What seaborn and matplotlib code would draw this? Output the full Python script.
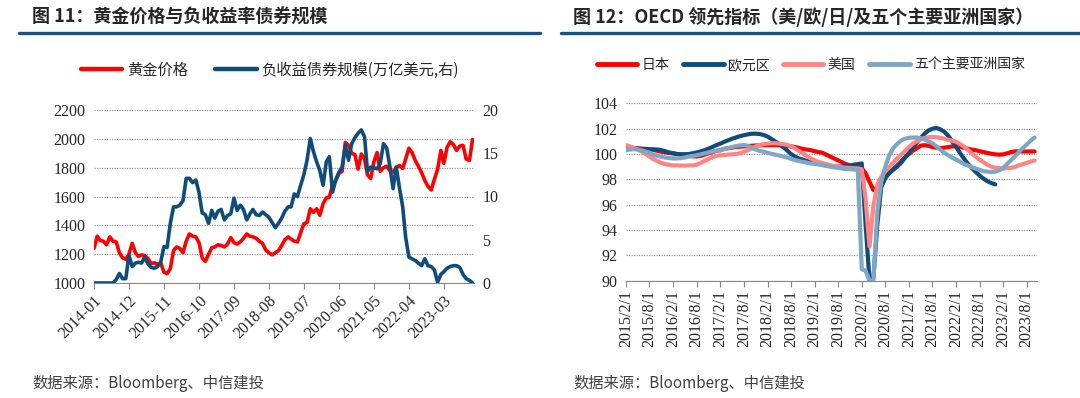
import pandas as pd
import matplotlib.pyplot as plt
import seaborn as sns
from matplotlib.lines import Line2D

# left chart: gold price (USD/oz) and negative-yield bond stock (trn USD, right axis), monthly
gold = [1240, 1325, 1295, 1290, 1265, 1320, 1290, 1285, 1210, 1175, 1165, 1200,
        1275, 1210, 1185, 1195, 1190, 1170, 1135, 1140, 1130, 1140, 1075, 1065,
        1100, 1225, 1250, 1240, 1210, 1290, 1340, 1325, 1320, 1280, 1175, 1150,
        1200, 1245, 1250, 1265, 1260, 1250, 1270, 1315, 1280, 1270, 1285, 1310,
        1340, 1325, 1320, 1310, 1290, 1275, 1230, 1210, 1195, 1210, 1225, 1260,
        1300, 1320, 1305, 1290, 1285, 1350, 1410, 1420, 1515, 1490, 1515, 1470,
        1550, 1590, 1595, 1680, 1710, 1760, 1775, 1975, 1955, 1900, 1890, 1790,
        1895, 1860, 1750, 1725, 1840, 1905, 1775, 1800, 1810, 1780, 1770, 1800,
        1815, 1795, 1860, 1935, 1905, 1850, 1810, 1765, 1710, 1670, 1645, 1720,
        1790, 1920, 1830, 1940, 1980, 1960, 1920, 1950, 1955, 1860, 1850, 1995]
neg_bonds = [0, 0, 0, 0, 0, 0, 0, 0.4, 1.1, 0.5, 0.5, 3.2,
             1.9, 2.3, 2.4, 2.3, 3.0, 2.2, 1.8, 1.7, 1.9, 2.4, 4.2, 4.1,
             6.9, 8.8, 8.8, 9.0, 9.5, 12.1, 12.1, 11.6, 11.9, 10.5, 8.1, 7.9,
             6.9, 8.4, 7.5, 8.3, 8.5, 7.3, 7.8, 8.0, 9.8, 8.4, 9.0, 8.5,
             7.3, 8.0, 8.5, 7.9, 7.8, 8.2, 7.9, 7.6, 7.0, 6.4, 6.9, 7.5,
             8.3, 8.8, 8.8, 10.3, 10.0, 11.3, 12.5, 14.2, 16.7, 15.2, 14.0, 13.0,
             11.3, 14.0, 14.6, 10.5, 11.9, 12.8, 13.4, 15.9, 14.2, 16.1, 16.8, 17.3,
             17.7, 16.9, 12.9, 13.4, 13.3, 13.2, 13.8, 16.1, 15.6, 13.5, 10.9, 13.4,
             11.0, 8.8, 5.3, 3.0, 2.8, 2.6, 2.3, 2.0, 2.8, 2.0, 1.9, 1.5,
             0.1, 1.0, 1.3, 1.7, 1.9, 2.0, 2.0, 1.8, 1.0, 0.5, 0.3, 0.0]
left_months = pd.date_range('2014-01-01', periods=len(gold), freq='MS')
left_ticks = ['2014-01', '2014-12', '2015-11', '2016-10', '2017-09', '2018-08',
              '2019-07', '2020-06', '2021-05', '2022-04', '2023-03']

# right chart: OECD composite leading indicators, monthly from 2015-02
japan = [100.45, 100.45, 100.45, 100.45, 100.42, 100.40, 100.37, 100.32, 100.25, 100.18,
         100.12, 100.08, 100.05, 100.0, 99.95, 99.9, 99.85, 99.82, 99.8, 99.85,
         99.95, 100.05, 100.15, 100.25, 100.3, 100.4, 100.45, 100.5, 100.55, 100.58,
         100.6, 100.62, 100.65, 100.67, 100.68, 100.7, 100.7, 100.7, 100.7, 100.68,
         100.66, 100.63, 100.6, 100.55, 100.48, 100.4, 100.35, 100.3, 100.22, 100.15,
         100.1, 99.95, 99.8, 99.65, 99.5, 99.35, 99.2, 99.1, 99.0, 98.95,
         98.85, 98.5, 97.8, 97.15, 97.4, 97.9, 98.2, 98.5, 98.8, 99.1,
         99.4, 99.75, 100.0, 100.25, 100.45, 100.65, 100.7, 100.65, 100.55, 100.5,
         100.45, 100.5, 100.55, 100.6, 100.6, 100.55, 100.5, 100.42, 100.35, 100.3,
         100.22, 100.15, 100.08, 100.02, 99.97, 99.95, 99.97, 100.05, 100.15, 100.2,
         100.2, 100.2, 100.2, 100.2, 100.2]
euro = [100.35, 100.4, 100.42, 100.42, 100.4, 100.38, 100.37, 100.37, 100.35, 100.3,
        100.22, 100.12, 100.05, 100.0, 99.98, 99.98, 100.0, 100.05, 100.12, 100.2,
        100.3, 100.42, 100.55, 100.7, 100.82, 100.95, 101.08, 101.2, 101.3, 101.4,
        101.48, 101.55, 101.6, 101.6, 101.58, 101.5, 101.38, 101.2, 101.0, 100.8,
        100.55, 100.3, 100.0, 99.8, 99.65, 99.55, 99.45, 99.38, 99.3, 99.25,
        99.2, 99.12, 99.05, 99.0, 99.0, 99.02, 99.05, 99.1, 99.15, 99.2,
        99.25, 94.5, 90.0, 90.2, 94.5, 97.4, 98.1, 98.5, 98.75, 99.0,
        99.3, 99.7, 100.1, 100.5, 100.9, 101.25, 101.6, 101.85, 102.0, 102.05,
        101.95, 101.75, 101.45, 101.0, 100.55, 100.1, 99.65, 99.25, 98.9, 98.6,
        98.3, 98.05, 97.85, 97.7, 97.6]
usa = [100.7, 100.6, 100.5, 100.35, 100.2, 100.0, 99.8, 99.6, 99.45, 99.3,
       99.2, 99.15, 99.1, 99.1, 99.08, 99.08, 99.1, 99.1, 99.15, 99.3,
       99.45, 99.6, 99.75, 99.85, 99.9, 99.92, 99.95, 99.97, 100.0, 100.05,
       100.15, 100.3, 100.45, 100.6, 100.7, 100.78, 100.82, 100.85, 100.85, 100.82,
       100.78, 100.72, 100.6, 100.45, 100.25, 100.05, 99.85, 99.65, 99.5, 99.38,
       99.3, 99.2, 99.12, 99.05, 99.0, 98.95, 98.92, 98.9, 98.88, 98.86,
       98.8, 96.5, 92.7, 95.9, 97.6, 98.2, 98.65, 98.95, 99.3, 99.65,
       99.95, 100.25, 100.55, 100.8, 101.0, 101.15, 101.25, 101.32, 101.35, 101.32,
       101.28, 101.2, 101.12, 101.05, 100.95, 100.8, 100.6, 100.35, 100.05, 99.8,
       99.55, 99.35, 99.15, 99.0, 98.92, 98.88, 98.85, 98.88, 98.9, 98.98,
       99.1, 99.2, 99.3, 99.4, 99.48]
asia5 = [100.3, 100.35, 100.38, 100.37, 100.3, 100.2, 100.1, 99.95, 99.85, 99.78,
         99.72, 99.68, 99.65, 99.65, 99.67, 99.72, 99.8, 99.85, 99.9, 99.97,
         100.05, 100.12, 100.2, 100.25, 100.3, 100.38, 100.45, 100.55, 100.62, 100.68,
         100.7, 100.65, 100.5, 100.35, 100.25, 100.18, 100.1, 100.02, 99.95, 99.88,
         99.8, 99.72, 99.62, 99.52, 99.45, 99.38, 99.32, 99.25, 99.22, 99.18,
         99.12, 99.05, 99.0, 98.95, 98.9, 98.85, 98.82, 98.8, 98.78, 98.75,
         90.9, 90.8, 90.0, 90.0, 95.5, 97.8, 99.0, 99.9, 100.45, 100.8,
         101.05, 101.2, 101.28, 101.3, 101.3, 101.25, 101.15, 101.0, 100.85, 100.6,
         100.35, 100.1, 99.9, 99.7, 99.55, 99.4, 99.22, 99.1, 98.95, 98.85,
         98.75, 98.65, 98.6, 98.58, 98.6, 98.72, 98.9, 99.2, 99.5, 99.8,
         100.15, 100.45, 100.75, 101.05, 101.3]
oecd_months = pd.date_range('2015-02-01', periods=len(japan), freq='MS')
right_ticks = pd.date_range('2015-02-01', '2023-08-01', freq='6MS')

sns.set_style('white')
plt.rcParams['font.family'] = ['Noto Sans CJK SC', 'DejaVu Sans']
plt.rcParams['axes.unicode_minus'] = False

NAVY = '#0F4C7A'
RED = '#FF0000'
PINK = '#FF8585'
STEEL = '#7FA6C4'
GRID = '#9A9A9A'
SERIF = 'Liberation Serif'

fig = plt.figure(figsize=(10.8, 3.98), dpi=100)

# titles + rules
fig.text(32 / 1080, 1 - 17 / 398, '图 11：黄金价格与负收益率债券规模', fontsize=13,
         fontweight='bold', va='center', ha='left')
fig.text(573 / 1080, 1 - 17 / 398, '图 12：OECD 领先指标（美/欧/日/及五个主要亚洲国家）',
         fontsize=13, fontweight='bold', va='center', ha='left')
fig.add_artist(Line2D([19 / 1080, 540 / 1080], [1 - 33 / 398] * 2, color='#1B4F7C', lw=2.4))
fig.add_artist(Line2D([561 / 1080, 1.0], [1 - 33 / 398] * 2, color='#1B4F7C', lw=2.4))

# sources (latin part in an italic face, CJK falls back to Noto)
for x0 in (32, 573):
    fig.text(x0 / 1080, 1 - 383 / 398, '数据来源：Bloomberg、中信建投', fontsize=11,
             family=['Noto Sans CJK SC', 'DejaVu Sans'], color='#404040',
             va='center', ha='left')

# ---- left chart ----
ax1 = fig.add_axes([94 / 1080, 1 - 283 / 398, 380 / 1080, 173 / 398])
sns.lineplot(x=left_months, y=gold, ax=ax1, color=RED, lw=2.6)
ax1.set_ylim(1000, 2200)
ax1.set_yticks(range(1000, 2201, 200))
ax1.set_xlim(left_months[0], pd.Timestamp('2023-12-15'))
ax1.set_xticks(pd.to_datetime(left_ticks))
ax1.set_xticklabels(left_ticks, rotation=45, ha='right', rotation_mode='anchor',
                    family=SERIF, fontsize=11.5)
ax1.yaxis.grid(True, linestyle=(0, (1, 1)), color=GRID, lw=0.9)
ax1.xaxis.grid(False)
for s in ('left', 'right', 'top'):
    ax1.spines[s].set_visible(False)
ax1.spines['bottom'].set_color('#888888')
ax1.tick_params(axis='x', length=4, color='#888888', direction='out', bottom=True, pad=3)
ax1.tick_params(axis='y', length=0, pad=6)
for lab in ax1.get_yticklabels():
    lab.set_family(SERIF)
    lab.set_fontsize(11.5)

ax2 = ax1.twinx()
sns.lineplot(x=left_months, y=neg_bonds, ax=ax2, color=NAVY, lw=2.6)
ax2.set_ylim(0, 20)
ax2.set_yticks(range(0, 21, 5))
ax2.grid(False)
for s in ('left', 'right', 'top', 'bottom'):
    ax2.spines[s].set_visible(False)
ax2.tick_params(axis='y', length=0, pad=6)
for lab in ax2.get_yticklabels():
    lab.set_family(SERIF)
    lab.set_fontsize(11.5)
ax1.set_xlabel('')
ax1.set_ylabel('')
ax2.set_ylabel('')

h_left = [Line2D([], [], color=RED, lw=3.2), Line2D([], [], color=NAVY, lw=3.2)]
ax1.legend(h_left, ['黄金价格', '负收益债券规模(万亿美元,右)'], loc='center',
           bbox_to_anchor=(0.463, 1.23), ncol=2, frameon=False, fontsize=11,
           handlelength=2.7, handletextpad=0.3, columnspacing=1.8)

# ---- right chart ----
ax3 = fig.add_axes([626 / 1080, 1 - 280.7 / 398, 411 / 1080, 177.4 / 398])
sns.lineplot(x=oecd_months, y=japan, ax=ax3, color=RED, lw=3)
sns.lineplot(x=oecd_months[:len(euro)], y=euro, ax=ax3, color=NAVY, lw=3)
sns.lineplot(x=oecd_months, y=usa, ax=ax3, color=PINK, lw=3)
sns.lineplot(x=oecd_months, y=asia5, ax=ax3, color=STEEL, lw=3)
ax3.set_ylim(90, 104)
ax3.set_yticks(range(90, 105, 2))
ax3.set_xlim(oecd_months[0], pd.Timestamp('2023-10-20'))
ax3.set_xticks(right_ticks)
ax3.set_xticklabels([f'{d.year}/{d.month}/1' for d in right_ticks], rotation=90,
                    family=SERIF, fontsize=11.5)
ax3.yaxis.grid(True, linestyle=(0, (1, 1)), color=GRID, lw=0.9)
ax3.xaxis.grid(False)
for s in ('left', 'right', 'top'):
    ax3.spines[s].set_visible(False)
ax3.spines['bottom'].set_color('#888888')
ax3.tick_params(axis='x', length=4, color='#888888', direction='out', bottom=True, pad=3)
ax3.tick_params(axis='y', length=0, pad=6)
for lab in ax3.get_yticklabels():
    lab.set_family(SERIF)
    lab.set_fontsize(11.5)
ax3.set_xlabel('')
ax3.set_ylabel('')

h_right = [Line2D([], [], color=c, lw=3.5) for c in (RED, NAVY, PINK, STEEL)]
ax3.legend(h_right, ['日本', '欧元区', '美国', '五个主要亚洲国家'], loc='center',
           bbox_to_anchor=(0.45, 1.216), ncol=4, frameon=False, fontsize=10,
           handlelength=2.9, handletextpad=0.3, columnspacing=1.0)

fig.savefig('out.png', dpi=100)
